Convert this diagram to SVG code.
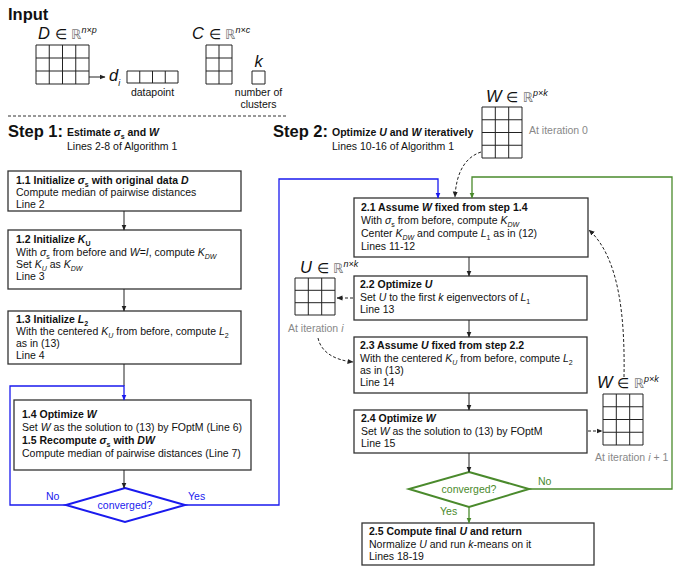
<svg xmlns="http://www.w3.org/2000/svg" width="685" height="566" viewBox="0 0 685 566">
<style>
text{font-family:"Liberation Sans",Arial,Helvetica,sans-serif;fill:#111}
.t{font-size:10.5px}
.b{font-weight:bold}
.i{font-style:italic}
.sub{font-size:7px}
.h1{font-size:16.5px;font-weight:bold}
.st{font-size:10.5px}
.g{fill:#888;font-size:10.5px}
.m{font-size:16.5px;font-style:italic}
.el{font-size:14px;font-style:normal}
.R{font-family:"DejaVu Sans",sans-serif;font-size:13px;fill:#777;font-style:normal}
.sup{font-size:9px;font-style:italic}
.box{fill:#fff;stroke:#333;stroke-width:1.3}
.grid{fill:none;stroke:#222;stroke-width:1}
.ln{fill:none;stroke:#222;stroke-width:1}
.dash{fill:none;stroke:#222;stroke-width:1;stroke-dasharray:3 2}
.blue{fill:none;stroke:#1a1aee;stroke-width:1.3}
.green{fill:none;stroke:#4a8a2c;stroke-width:1.3}
.bt{fill:#1a1aee}
.gt{fill:#4a8a2c}
</style>
<defs>
<marker id="ak" markerUnits="userSpaceOnUse" markerWidth="6" markerHeight="6" refX="5.5" refY="3" orient="auto"><path d="M0,0.5 L6,3 L0,5.5z" fill="#222"/></marker>
<marker id="ab" markerUnits="userSpaceOnUse" markerWidth="6" markerHeight="6" refX="5.5" refY="3" orient="auto"><path d="M0,0.5 L6,3 L0,5.5z" fill="#1a1aee"/></marker>
<marker id="ag" markerUnits="userSpaceOnUse" markerWidth="6" markerHeight="6" refX="5.5" refY="3" orient="auto"><path d="M0,0.5 L6,3 L0,5.5z" fill="#4a8a2c"/></marker>
</defs>

<g id="input">
<text x="8" y="20" class="h1">Input</text>
<text x="38" y="39" class="m">D <tspan class="el">∈</tspan> <tspan class="R">ℝ</tspan><tspan class="sup" dy="-6">n×p</tspan></text>
<path class="grid" d="M36,45h53v39h-53z M49.25,45v39 M62.5,45v39 M75.75,45v39 M36,58h53 M36,71h53"/>
<path class="ln" d="M89,77 L105,77" marker-end="url(#ak)"/>
<text x="109" y="81" class="m">d<tspan class="sup" dy="5">i</tspan></text>
<path class="grid" d="M127,71h51v12h-51z M139.75,71v12 M152.5,71v12 M165.25,71v12"/>
<text x="152.5" y="96" class="t" font-size="10" text-anchor="middle">datapoint</text>
<text x="192" y="39" class="m">C <tspan class="el">∈</tspan> <tspan class="R">ℝ</tspan><tspan class="sup" dy="-6">n×c</tspan></text>
<path class="grid" d="M206,45h26v39h-26z M219,45v39 M206,58h26 M206,71h26"/>
<text x="258.5" y="67" class="m" text-anchor="middle">k</text>
<path class="grid" d="M252,71h13v13h-13z"/>
<text x="258.5" y="96" class="t" text-anchor="middle">number of</text>
<text x="258.5" y="108" class="t" text-anchor="middle">clusters</text>
<path d="M8,116 L287,116" fill="none" stroke="#333" stroke-width="1" stroke-dasharray="3 2"/>
</g>

<g id="step1-header">
<text x="8" y="137" class="h1">Step 1:</text>
<text x="67" y="136" class="st b">Estimate <tspan class="i">σ</tspan><tspan class="sub" dy="2.5">s</tspan><tspan dy="-2.5"> and </tspan><tspan class="i">W</tspan></text>
<text x="67" y="150" class="st">Lines 2-8 of Algorithm 1</text>
</g>

<g id="step2-header">
<text x="273" y="137" class="h1">Step 2:</text>
<text x="332" y="136" class="st b">Optimize <tspan class="i">U</tspan> and <tspan class="i">W</tspan> iteratively</text>
<text x="332" y="150" class="st">Lines 10-16 of Algorithm 1</text>
</g>

<g id="n11">
<rect class="box" x="8" y="171" width="233" height="40"/>
<text x="16" y="184" class="t b">1.1 Initialize <tspan class="i">σ</tspan><tspan class="sub" dy="2.5">s</tspan><tspan dy="-2.5"> with original data </tspan><tspan class="i">D</tspan></text>
<text x="16" y="196" class="t">Compute median of pairwise distances</text>
<text x="16" y="208" class="t">Line 2</text>
</g>

<g id="n12">
<rect class="box" x="8" y="230" width="233" height="59"/>
<text x="16" y="243" class="t b">1.2 Initialize <tspan class="i">K</tspan><tspan class="sub" dy="2.5">U</tspan></text>
<text x="16" y="256" class="t">With <tspan class="i">σ</tspan><tspan class="sub" dy="2.5">s</tspan><tspan dy="-2.5"> from before and </tspan><tspan class="i">W</tspan>=<tspan class="i">I</tspan>, compute <tspan class="i">K</tspan><tspan class="sub i" dy="2.5">DW</tspan></text>
<text x="16" y="268" class="t">Set <tspan class="i">K</tspan><tspan class="sub i" dy="2.5">U</tspan><tspan dy="-2.5"> as </tspan><tspan class="i">K</tspan><tspan class="sub i" dy="2.5">DW</tspan></text>
<text x="16" y="280" class="t">Line 3</text>
</g>

<g id="n13">
<rect class="box" x="8" y="311" width="233" height="53"/>
<text x="16" y="323" class="t b">1.3 Initialize <tspan class="i">L</tspan><tspan class="sub" dy="2.5">2</tspan></text>
<text x="16" y="335" class="t">With the centered <tspan class="i">K</tspan><tspan class="sub i" dy="2.5">U</tspan><tspan dy="-2.5"> from before, compute </tspan><tspan class="i">L</tspan><tspan class="sub" dy="2.5">2</tspan></text>
<text x="16" y="347" class="t">as in (13)</text>
<text x="16" y="359" class="t">Line 4</text>
</g>

<g id="n14">
<rect class="box" x="14" y="400" width="237" height="70"/>
<text x="22" y="418" class="t b">1.4 Optimize <tspan class="i">W</tspan></text>
<text x="22" y="431" class="t">Set <tspan class="i">W</tspan> as the solution to (13) by FOptM (Line 6)</text>
<text x="22" y="444" class="t b">1.5 Recompute <tspan class="i">σ</tspan><tspan class="sub" dy="2.5">s</tspan><tspan dy="-2.5"> with </tspan><tspan class="i">DW</tspan></text>
<text x="22" y="457" class="t">Compute median of pairwise distances (Line 7)</text>
</g>

<g id="d1">
<polygon points="125,488 185,505 125,522 66,505" fill="#fff" stroke="#1a1aee" stroke-width="2"/>
<text x="125" y="509" class="t bt" text-anchor="middle">converged?</text>
<text x="46" y="500" class="t bt">No</text>
<text x="188" y="500" class="t bt">Yes</text>
</g>

<g id="mat-W0">
<text x="486" y="102" class="m">W <tspan class="el">∈</tspan> <tspan class="R">ℝ</tspan><tspan class="sup" dy="-6">p×k</tspan></text>
<path class="grid" d="M482,107h40v51h-40z M495.3,107v51 M508.7,107v51 M482,119.75h40 M482,132.5h40 M482,145.25h40"/>
<text x="529" y="134" class="g">At iteration 0</text>
</g>

<g id="n21">
<rect class="box" x="354" y="198" width="234" height="59"/>
<text x="361" y="211" class="t b">2.1 Assume <tspan class="i">W</tspan> fixed from step 1.4</text>
<text x="361" y="224" class="t">With <tspan class="i">σ</tspan><tspan class="sub" dy="2.5">s</tspan><tspan dy="-2.5"> from before, compute </tspan><tspan class="i">K</tspan><tspan class="sub i" dy="2.5">DW</tspan></text>
<text x="361" y="237" class="t">Center <tspan class="i">K</tspan><tspan class="sub i" dy="2.5">DW</tspan><tspan dy="-2.5"> and compute </tspan><tspan class="i">L</tspan><tspan class="sub" dy="2.5">1</tspan><tspan dy="-2.5"> as in (12)</tspan></text>
<text x="361" y="250" class="t">Lines 11-12</text>
</g>

<g id="mat-U">
<text x="300" y="273" class="m">U <tspan class="el">∈</tspan> <tspan class="R">ℝ</tspan><tspan class="sup" dy="-6">n×k</tspan></text>
<path class="grid" d="M295,278h40v37h-40z M308.3,278v37 M321.7,278v37 M295,290.3h40 M295,302.7h40"/>
<text x="288" y="332" class="g">At iteration <tspan class="i">i</tspan></text>
</g>

<g id="n22">
<rect class="box" x="354" y="276" width="233" height="44"/>
<text x="360" y="288" class="t b">2.2 Optimize <tspan class="i">U</tspan></text>
<text x="360" y="301" class="t">Set <tspan class="i">U</tspan> to the first <tspan class="i">k</tspan> eigenvectors of <tspan class="i">L</tspan><tspan class="sub" dy="2.5">1</tspan></text>
<text x="360" y="313" class="t">Line 13</text>
</g>

<g id="n23">
<rect class="box" x="354" y="337" width="233" height="56"/>
<text x="360" y="349" class="t b">2.3 Assume <tspan class="i">U</tspan> fixed from step 2.2</text>
<text x="360" y="362" class="t">With the centered <tspan class="i">K</tspan><tspan class="sub i" dy="2.5">U</tspan><tspan dy="-2.5"> from before, compute </tspan><tspan class="i">L</tspan><tspan class="sub" dy="2.5">2</tspan></text>
<text x="360" y="374" class="t">as in (13)</text>
<text x="360" y="386" class="t">Line 14</text>
</g>

<g id="n24">
<rect class="box" x="354" y="410" width="233" height="43"/>
<text x="361" y="422" class="t b">2.4 Optimize <tspan class="i">W</tspan></text>
<text x="361" y="435" class="t">Set <tspan class="i">W</tspan> as the solution to (13) by FOptM</text>
<text x="361" y="447" class="t">Line 15</text>
</g>

<g id="mat-W1">
<text x="597" y="388" class="m">W <tspan class="el">∈</tspan> <tspan class="R">ℝ</tspan><tspan class="sup" dy="-6">p×k</tspan></text>
<path class="grid" d="M603,394h40v51h-40z M616.3,394v51 M629.7,394v51 M603,406.75h40 M603,419.5h40 M603,432.25h40"/>
<text x="595" y="461" class="g">At iteration <tspan class="i">i</tspan> + 1</text>
</g>

<g id="d2">
<polygon points="469,472 529,489 469,507 409,489" fill="#fff" stroke="#4a8a2c" stroke-width="2"/>
<text x="469" y="493" class="t gt" text-anchor="middle">converged?</text>
<text x="538" y="485" class="t gt">No</text>
<text x="440" y="515" class="t gt">Yes</text>
</g>

<g id="n25">
<rect class="box" x="362" y="523" width="232" height="42"/>
<text x="369" y="535" class="t b">2.5 Compute final <tspan class="i">U</tspan> and return</text>
<text x="369" y="548" class="t">Normalize <tspan class="i">U</tspan> and run <tspan class="i">k</tspan>-means on it</text>
<text x="369" y="560" class="t">Lines 18-19</text>
</g>

<g id="connectors">
<path class="ln" d="M124,211 L124,230" marker-end="url(#ak)"/>
<path class="ln" d="M124,289 L124,311" marker-end="url(#ak)"/>
<path class="ln" d="M124,364 L124,386"/>
<path class="blue" d="M66,505 L10,505 L10,386 L124,386 L124,400" marker-end="url(#ab)"/>
<path class="ln" d="M124,470 L124,488" marker-end="url(#ak)"/>
<path class="blue" d="M185,505 L279,505 L279,179 L438,179 L438,198" marker-end="url(#ab)"/>
<path class="ln" d="M469,257 L469,276" marker-end="url(#ak)"/>
<path class="ln" d="M469,320 L469,337" marker-end="url(#ak)"/>
<path class="ln" d="M469,393 L469,410" marker-end="url(#ak)"/>
<path class="ln" d="M469,453 L469,472" marker-end="url(#ak)"/>
<path class="green" d="M529,489 L672,489 L672,177 L472,177 L472,198" marker-end="url(#ag)"/>
<path class="green" d="M469,507 L469,523" marker-end="url(#ag)"/>
<path class="dash" d="M481,152 C463,158 456,176 455,197" marker-end="url(#ak)"/>
<path class="dash" d="M353,298 L337,298" marker-end="url(#ak)"/>
<path class="dash" d="M318,338 C321,352 334,360 353,362" marker-end="url(#ak)"/>
<path class="dash" d="M588,431 L602,431" marker-end="url(#ak)"/>
<path class="dash" d="M624,377 C625,320 620,258 589,230" marker-end="url(#ak)"/>
</g>
</svg>
